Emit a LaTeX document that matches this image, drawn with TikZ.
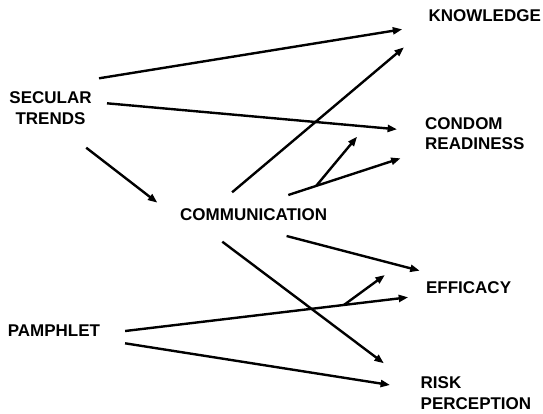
\documentclass[tikz,border=0pt]{standalone}
\usepackage{fontspec}
\setmainfont{Liberation Sans}
\usetikzlibrary{arrows.meta,calc}
\begin{document}
\begin{tikzpicture}[x=1pt,y=-1pt,
  lbl/.style={font=\bfseries\fontsize{17}{20.3}\selectfont, inner sep=0pt, anchor=west, align=left},
  arr/.style={line width=2.4pt, -{Triangle[length=9.5pt,width=7pt]}}]
\useasboundingbox (0,0) rectangle (543,413);
% nodes
\node[lbl] (know) at (428.3,16) {KNOWLEDGE};
\node[lbl, align=center, anchor=center] (sec) at (50.5,108) {SECULAR\\TRENDS};
\node[lbl] (cond) at (425,133.5) {CONDOM\\READINESS};
\node[lbl] (comm) at (180,214.2) {COMMUNICATION};
\node[lbl] (eff) at (425.9,287.5) {EFFICACY};
\node[lbl] (pam) at (7.6,330.8) {PAMPHLET};
\node[lbl] (risk) at (420.5,393.2) {RISK\\PERCEPTION};
% endpoints
\coordinate (sk1) at (99,78.3);     \coordinate (sk2) at (402.3,29.3);
\coordinate (sc1) at (107,103.3);   \coordinate (sc2) at (397.1,129.3);
\coordinate (sm1) at (86.2,147.7);  \coordinate (sm2) at (157.4,202.7);
\coordinate (mk1) at (232.1,192.3); \coordinate (mk2) at (404,47.3);
\coordinate (mc1) at (288.3,195);   \coordinate (mc2) at (400.6,158.3);
\coordinate (mcb) at ($(mc1)!0.248!(mc2)$); \coordinate (mcb2) at (357.1,136.7);
\coordinate (me1) at (286.6,236);   \coordinate (me2) at (419.7,270.7);
\coordinate (mr1) at (222.3,241.7); \coordinate (mr2) at (383.9,363.3);
\coordinate (pe1) at (125.1,331);   \coordinate (pe2) at (408.2,297.3);
\coordinate (peb) at ($(pe1)!0.773!(pe2)$); \coordinate (peb2) at (384.9,275);
\coordinate (pr1) at (125.1,343.3); \coordinate (pr2) at (390.1,385);
% connectors
\draw[arr] (sk1) -- (sk2);
\draw[arr] (sc1) -- (sc2);
\draw[arr] (sm1) -- (sm2);
\draw[arr] (mk1) -- (mk2);
\draw[arr] (mc1) -- (mc2);
\draw[arr] (mcb) -- (mcb2);
\draw[arr] (me1) -- (me2);
\draw[arr] (mr1) -- (mr2);
\draw[arr] (pe1) -- (pe2);
\draw[arr] (peb) -- (peb2);
\draw[arr] (pr1) -- (pr2);
\end{tikzpicture}
\end{document}
